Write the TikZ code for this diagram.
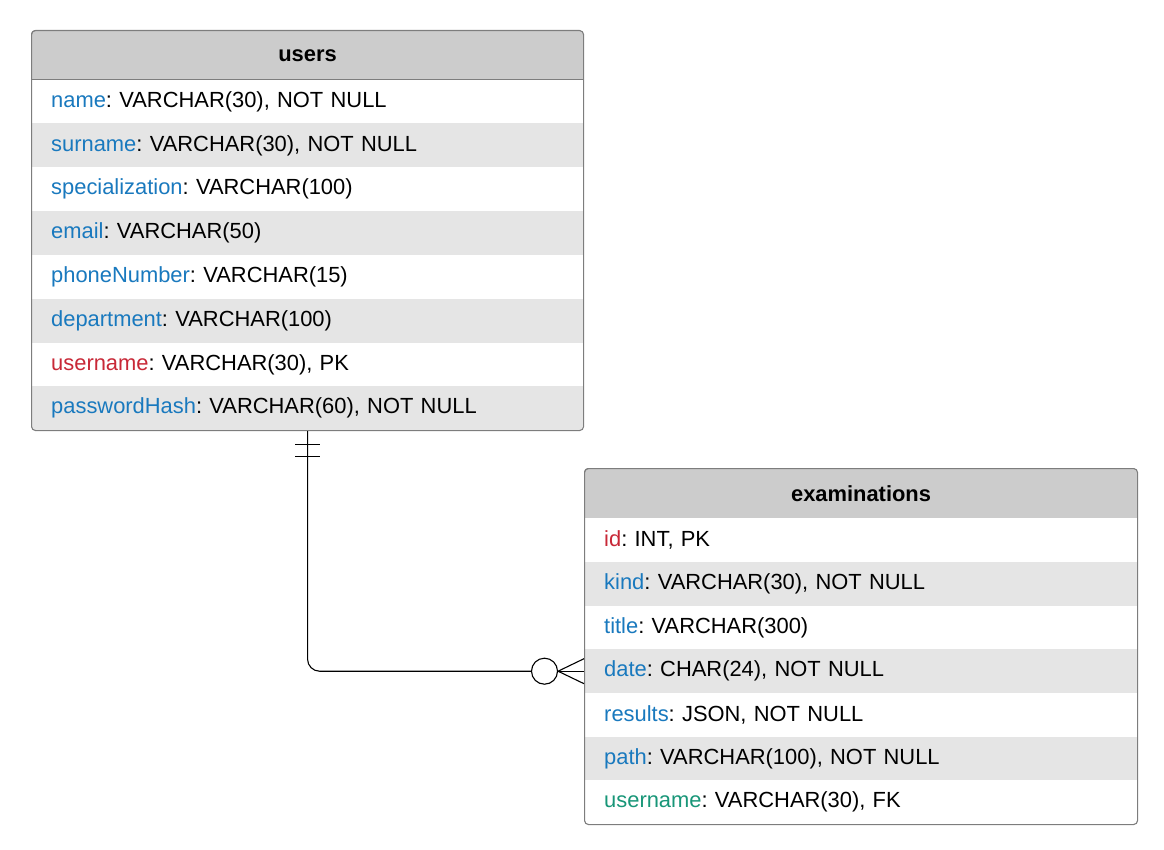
\documentclass[tikz,border=0pt]{standalone}
\usepackage{fontspec}
\setmainfont{Liberation Sans}
\usetikzlibrary{calc}
\frenchspacing
\definecolor{attrblue}{RGB}{25,121,190}
\definecolor{pkred}{RGB}{200,40,55}
\definecolor{fkgreen}{RGB}{24,150,120}
\definecolor{hdrgrey}{RGB}{204,204,204}
\definecolor{rowgrey}{RGB}{229,229,229}
\definecolor{bordergrey}{RGB}{125,125,125}
\newcommand{\diagfont}{\fontsize{21.9}{26}\selectfont}
\tikzset{
  tablebox/.style={draw=bordergrey, line width=1.1pt, rounded corners=4pt, anchor=north west, inner sep=0pt},
  hdr/.style={fill=hdrgrey, draw=bordergrey, line width=1.1pt, anchor=north west, minimum height=49.5pt, text width=512pt, inner xsep=20pt, inner ysep=0pt, align=center, font=\diagfont\bfseries},
  rowbox/.style={anchor=north west, minimum height=43.8pt, text width=512pt, inner xsep=20pt, inner ysep=0pt, align=left},
  oddrow/.style={rowbox, fill=white},
  evenrow/.style={rowbox, fill=rowgrey},
  conn/.style={draw=black, line width=1.1pt},
}
\newcommand{\at}[1]{\textcolor{attrblue}{#1}}
\newcommand{\pk}[1]{\textcolor{pkred}{#1}}
\newcommand{\fk}[1]{\textcolor{fkgreen}{#1}}
\begin{document}
\begin{tikzpicture}[x=1pt,y=-1pt, font=\diagfont]
\useasboundingbox (0,0) rectangle (1164,850);
% users table
\begin{scope}
\clip[rounded corners=4pt] (31,30) rectangle (583,430);
\node[hdr] (uh) at (31,30) {users};
\node[oddrow]  (u1) at (31,79.5) {\at{name}: VARCHAR(30), NOT NULL};
\node[evenrow] (u2) at (31,123.3) {\at{surname}: VARCHAR(30), NOT NULL};
\node[oddrow]  (u3) at (31,167.1) {\at{specialization}: VARCHAR(100)};
\node[evenrow] (u4) at (31,210.9) {\at{email}: VARCHAR(50)};
\node[oddrow]  (u5) at (31,254.7) {\at{phoneNumber}: VARCHAR(15)};
\node[evenrow] (u6) at (31,298.5) {\at{department}: VARCHAR(100)};
\node[oddrow]  (u7) at (31,342.3) {\pk{username}: VARCHAR(30), PK};
\node[evenrow] (u8) at (31,386.1) {\at{passwordHash}: VARCHAR(60), NOT NULL};
\end{scope}
\node[tablebox, minimum width=552pt, minimum height=400pt] (users) at (31,30) {};
% examinations table
\begin{scope}
\clip[rounded corners=4pt] (584,468) rectangle (1137,824);
\node[hdr, text width=513pt] (eh) at (584,468) {examinations};
\node[oddrow, text width=513pt]  (e1) at (584,518) {\pk{id}: INT, PK};
\node[evenrow, text width=513pt] (e2) at (584,561.7) {\at{kind}: VARCHAR(30), NOT NULL};
\node[oddrow, text width=513pt]  (e3) at (584,605.4) {\at{title}: VARCHAR(300)};
\node[evenrow, text width=513pt] (e4) at (584,649.1) {\at{date}: CHAR(24), NOT NULL};
\node[oddrow, text width=513pt]  (e5) at (584,692.8) {\at{results}: JSON, NOT NULL};
\node[evenrow, text width=513pt] (e6) at (584,736.5) {\at{path}: VARCHAR(100), NOT NULL};
\node[oddrow, text width=513pt]  (e7) at (584,780.2) {\fk{username}: VARCHAR(30), FK};
\end{scope}
\node[tablebox, minimum width=553pt, minimum height=356pt] (exams) at (584,468) {};
% relationship
\node[circle, draw=black, line width=1.1pt, fill=white, minimum size=26pt, inner sep=0pt] (zero) at ($(e4.west)+(-39.5,0)$) {};
\coordinate (upper) at ($(e4.west)+(0,-12.5)$);
\coordinate (lower) at ($(e4.west)+(0,12.5)$);
\draw[conn, rounded corners=12pt] (users.south) |- (zero.west);
\draw[conn] (zero.east) -- (e4.west);
\draw[conn] (zero.east) -- (upper);
\draw[conn] (zero.east) -- (lower);
\coordinate (bar1) at ($(users.south)+(0,13)$);
\coordinate (bar2) at ($(users.south)+(0,25)$);
\draw[conn] ($(bar1)+(-12.5,0)$) -- ($(bar1)+(12.5,0)$);
\draw[conn] ($(bar2)+(-12.5,0)$) -- ($(bar2)+(12.5,0)$);
\end{tikzpicture}
\end{document}
